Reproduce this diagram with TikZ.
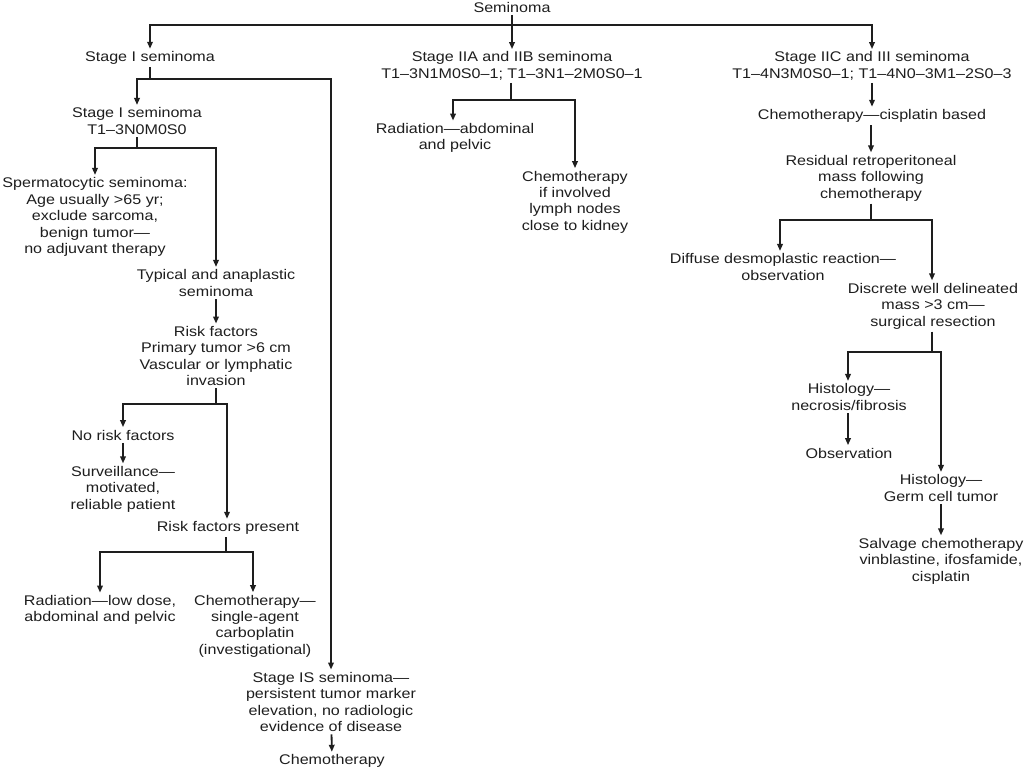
\documentclass[tikz,border=0pt]{standalone}
\usepackage{fontspec}
\setmainfont{Liberation Sans}[FakeStretch=1.15]
\usetikzlibrary{arrows.meta}
\definecolor{ink}{RGB}{30,30,30}
\begin{document}
\begin{tikzpicture}[x=1pt,y=-1pt,
  txt/.style={align=center,inner sep=2.5pt,text=ink,font=\fontsize{14}{16.4}\selectfont},
  ln/.style={draw=ink,line width=1.8pt},
  arr/.style={ln,-{Triangle[length=7pt,width=5.5pt]}}]
\useasboundingbox[fill=white] (0,0) rectangle (1024,769);
% nodes
\node[txt] (sem) at (512,7) {Seminoma};
\node[txt] (s1) at (150,58) {Stage I seminoma};
\node[txt] (s2) at (512,66) {Stage IIA and IIB seminoma\\T1–3N1M0S0–1; T1–3N1–2M0S0–1};
\node[txt] (s3) at (872,66) {Stage IIC and III seminoma\\T1–4N3M0S0–1; T1–4N0–3M1–2S0–3};
\node[txt] (s1b) at (137,121) {Stage I seminoma\\T1–3N0M0S0};
\node[txt] (sperm) at (95,217) {Spermatocytic seminoma:\\Age usually >65 yr;\\exclude sarcoma,\\benign tumor—\\no adjuvant therapy};
\node[txt] (typ) at (216,283) {Typical and anaplastic\\seminoma};
\node[txt] (risk) at (216,356) {Risk factors\\Primary tumor >6 cm\\Vascular or lymphatic\\invasion};
\node[txt] (nrf) at (123,435) {No risk factors};
\node[txt] (surv) at (123,489) {Surveillance—\\motivated,\\reliable patient};
\node[txt] (rfp) at (228,528) {Risk factors present};
\node[txt] (rad) at (100,610) {Radiation—low dose,\\abdominal and pelvic};
\node[txt] (cheL) at (255,626) {Chemotherapy—\\single-agent\\carboplatin\\(investigational)};
\node[txt] (sIS) at (331,702) {Stage IS seminoma—\\persistent tumor marker\\elevation, no radiologic\\evidence of disease};
\node[txt] (cheIS) at (332,761) {Chemotherapy};
\node[txt] (rad2) at (455,138) {Radiation—abdominal\\and pelvic};
\node[txt] (che2) at (575,202) {Chemotherapy\\if involved\\lymph nodes\\close to kidney};
\node[txt] (chc) at (872,116) {Chemotherapy—cisplatin based};
\node[txt] (res) at (871,178) {Residual retroperitoneal\\mass following\\chemotherapy};
\node[txt] (dif) at (783,267) {Diffuse desmoplastic reaction—\\observation};
\node[txt] (dis) at (933,306) {Discrete well delineated\\mass >3 cm—\\surgical resection};
\node[txt] (h1) at (849,397) {Histology—\\necrosis/fibrosis};
\node[txt] (obs) at (849,453) {Observation};
\node[txt] (h2) at (941,488) {Histology—\\Germ cell tumor};
\node[txt] (salv) at (941,561) {Salvage chemotherapy\\vinblastine, ifosfamide,\\cisplatin};
% junctions
\coordinate (j0) at (512,25);
\coordinate (j1) at (150,79);
\coordinate (j2) at (137,148);
\coordinate (j3) at (216,404);
\coordinate (j4) at (226,552);
\coordinate (j5) at (511,100);
\coordinate (j6) at (871,220);
\coordinate (j7) at (932,352);
% connectors
\draw[ln] (sem.south) -- (j0);
\draw[arr] (j0) -| (s1.north);
\draw[arr] (j0) -- (s2.north);
\draw[arr] (j0) -| (s3.north);
\draw[ln] (s1.south) -- (j1);
\draw[arr] (j1) -| (s1b.north);
\draw[arr] (j1) -| (sIS.north);
\draw[ln] (s1b.south) -- (j2);
\draw[arr] (j2) -| (sperm.north);
\draw[arr] (j2) -| (typ.north);
\draw[arr] (typ) -- (risk);
\draw[ln] (risk.south) -- (j3);
\draw[arr] (j3) -| (nrf.north);
\draw[arr] (j3) -| (rfp.north -| 227,0);
\draw[arr] (nrf) -- (surv);
\draw[ln] (rfp.south -| j4) -- (j4);
\draw[arr] (j4) -| (rad.north);
\draw[arr] (j4) -| (cheL.north -| 253,0);
\draw[arr] (sIS) -- (cheIS);
\draw[ln] (s2.south -| j5) -- (j5);
\draw[arr] (j5) -| (rad2.north -| 453,0);
\draw[arr] (j5) -| (che2.north);
\draw[arr] (s3) -- (s3 |- chc.north);
\draw[arr] (chc.south -| 871,0) -- (res.north);
\draw[ln] (res.south) -- (j6);
\draw[arr] (j6) -| (dif.north -| 780,0);
\draw[arr] (j6) -| (dis.north -| 932,0);
\draw[ln] (dis.south -| j7) -- (j7);
\draw[arr] (j7) -| (h1.north -| 848,0);
\draw[arr] (j7) -| (h2.north);
\draw[arr] (h1.south -| 848,0) -- (obs.north -| 848,0);
\draw[arr] (h2) -- (salv);
\end{tikzpicture}
\end{document}
